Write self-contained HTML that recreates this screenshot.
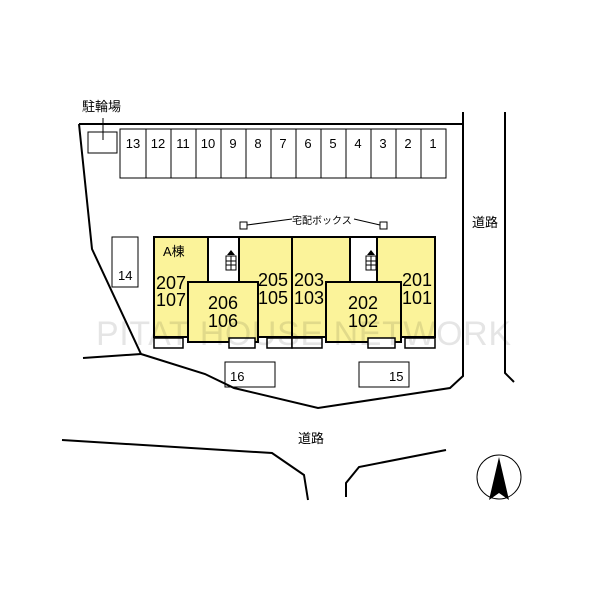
<!DOCTYPE html><html><head><style>body{margin:0;background:#fff}</style></head><body>
<svg width="600" height="600" xmlns="http://www.w3.org/2000/svg" font-family="Liberation Sans, Noto Sans CJK JP, sans-serif">
<g fill="none" stroke="#000" stroke-width="2">
<polyline points="79,124 463,124"/>
<polyline points="463,112 463,376 450,388 318,408 234,388 205,374 141,354 92,249 79,124"/>
<line x1="83" y1="358" x2="141" y2="354"/>
<polyline points="505,112 505,373 514,382"/>
<polyline points="62,440 272,453 304,475 308,500"/>
<polyline points="346,497 346,483 359,467 446,450"/>
</g>
<g fill="none" stroke="#000" stroke-width="1">
<rect x="88" y="132" width="29" height="21"/>
<line x1="103" y1="118" x2="103" y2="140"/>
<rect x="120" y="129" width="326" height="49"/>
<line x1="146" y1="129" x2="146" y2="178"/><line x1="171" y1="129" x2="171" y2="178"/><line x1="196" y1="129" x2="196" y2="178"/><line x1="221" y1="129" x2="221" y2="178"/><line x1="246" y1="129" x2="246" y2="178"/><line x1="271" y1="129" x2="271" y2="178"/><line x1="296" y1="129" x2="296" y2="178"/><line x1="321" y1="129" x2="321" y2="178"/><line x1="346" y1="129" x2="346" y2="178"/><line x1="371" y1="129" x2="371" y2="178"/><line x1="396" y1="129" x2="396" y2="178"/><line x1="421" y1="129" x2="421" y2="178"/>
<rect x="112" y="237" width="26" height="50"/>
<rect x="225" y="362" width="50" height="25"/>
<rect x="359" y="362" width="50" height="25"/>
<rect x="240" y="222" width="7" height="7"/><rect x="380" y="222" width="7" height="7"/>
<polyline points="247,225 292,219"/><polyline points="354,219 380,225"/>
<circle cx="499" cy="477" r="22"/>
</g>
<g font-size="13" text-anchor="middle"><text x="133" y="148">13</text><text x="158" y="148">12</text><text x="183" y="148">11</text><text x="208" y="148">10</text><text x="233" y="148">9</text><text x="258" y="148">8</text><text x="283" y="148">7</text><text x="308" y="148">6</text><text x="333" y="148">5</text><text x="358" y="148">4</text><text x="383" y="148">3</text><text x="408" y="148">2</text><text x="433" y="148">1</text></g>
<g stroke="#000" stroke-width="2">
<rect x="154" y="237" width="281" height="100" fill="#fbf39a"/>
<rect x="208" y="237" width="31" height="45" fill="#fff"/>
<rect x="350" y="237" width="27" height="45" fill="#fff"/>
<line x1="292" y1="237" x2="292" y2="337"/>
<rect x="188" y="282" width="70" height="60" fill="#fbf39a"/>
<rect x="326" y="282" width="75" height="60" fill="#fbf39a"/>
</g>
<g fill="#fff" stroke="#000" stroke-width="1.5">
<rect x="154" y="338" width="29" height="10"/><rect x="229" y="338" width="26" height="10"/><rect x="267" y="338" width="25" height="10"/><rect x="292" y="338" width="30" height="10"/><rect x="368" y="338" width="27" height="10"/><rect x="405" y="338" width="30" height="10"/>
</g>
<g stroke="#000" stroke-width="1" fill="none"><rect x="226" y="256" width="10" height="14"/><line x1="226" y1="261" x2="236" y2="261"/><line x1="226" y1="265" x2="236" y2="265"/><line x1="231" y1="256" x2="231" y2="270"/><rect x="366" y="256" width="10" height="14"/><line x1="366" y1="261" x2="376" y2="261"/><line x1="366" y1="265" x2="376" y2="265"/><line x1="371" y1="256" x2="371" y2="270"/></g>
<polygon points="227,255 231,250 235,255" fill="#000"/><polygon points="367,255 371,250 375,255" fill="#000"/>
<polygon points="499,457 489,500 499,493 509,500" fill="#000"/>
<text x="96" y="345" font-size="34" fill="#000" fill-opacity="0.1" textLength="415">PITAT HOUSE NETWORK</text>
<g font-size="18" text-anchor="middle" fill="#000"><text x="171" y="289">207</text><text x="171" y="306">107</text><text x="223" y="309">206</text><text x="223" y="327">106</text><text x="273" y="286">205</text><text x="273" y="304">105</text><text x="309" y="286">203</text><text x="309" y="304">103</text><text x="363" y="309">202</text><text x="363" y="327">102</text><text x="417" y="286">201</text><text x="417" y="304">101</text></g>
<g font-size="13" fill="#000"><text x="163" y="256">A棟</text><text x="118" y="280">14</text><text x="230" y="381">16</text><text x="389" y="381">15</text><text x="82" y="111">駐輪場</text><text x="472" y="227">道路</text><text x="298" y="443">道路</text><text x="292" y="224" font-size="10">宅配ボックス</text></g>
</svg></body></html>
